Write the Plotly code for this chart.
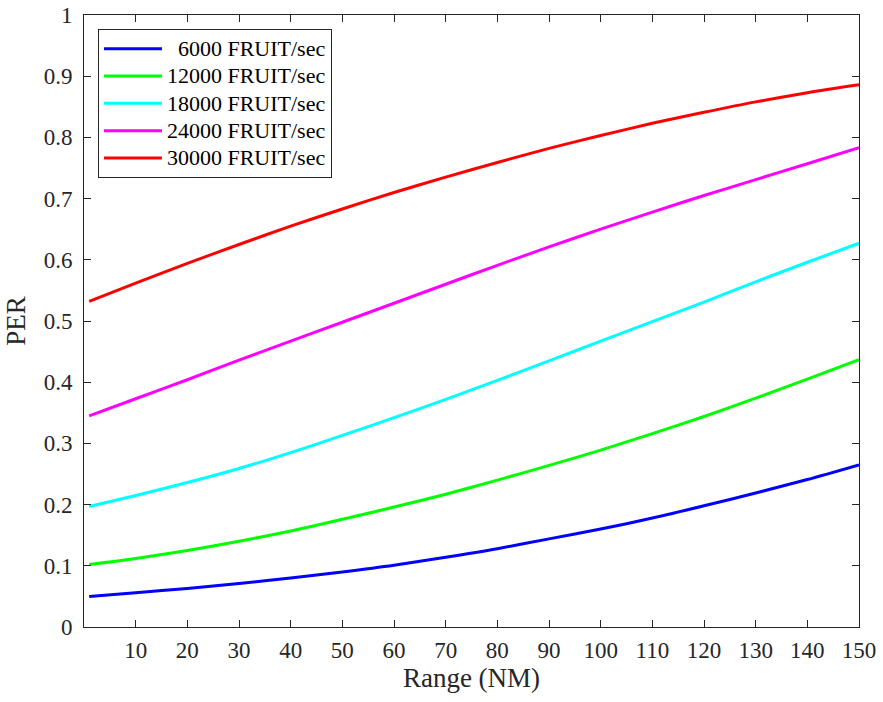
import plotly.graph_objects as go

range_nm = [1, 10, 20, 30, 40, 50, 60, 70, 80, 90, 100, 110, 120, 130, 140, 150]

per_6000 = [0.050, 0.056, 0.063, 0.071, 0.080, 0.090, 0.101, 0.114, 0.128, 0.144, 0.160, 0.178, 0.198, 0.219, 0.241, 0.265]
per_12000 = [0.102, 0.112, 0.125, 0.140, 0.157, 0.176, 0.196, 0.217, 0.240, 0.264, 0.289, 0.316, 0.344, 0.374, 0.405, 0.437]
per_18000 = [0.197, 0.215, 0.236, 0.259, 0.285, 0.313, 0.342, 0.372, 0.403, 0.435, 0.467, 0.499, 0.531, 0.564, 0.596, 0.627]
per_24000 = [0.345, 0.373, 0.404, 0.436, 0.467, 0.498, 0.529, 0.560, 0.591, 0.621, 0.650, 0.678, 0.705, 0.731, 0.757, 0.783]
per_30000 = [0.532, 0.562, 0.594, 0.625, 0.655, 0.683, 0.710, 0.735, 0.759, 0.782, 0.803, 0.823, 0.841, 0.858, 0.873, 0.886]

series_names = ["\u00a0\u00a06000 FRUIT/sec", "12000 FRUIT/sec", "18000 FRUIT/sec",
                "24000 FRUIT/sec", "30000 FRUIT/sec"]
series_values = [per_6000, per_12000, per_18000, per_24000, per_30000]
series_colors = ["#0000FF", "#00FF00", "#00FFFF", "#FF00FF", "#FF0000"]

x_ticks = [10, 20, 30, 40, 50, 60, 70, 80, 90, 100, 110, 120, 130, 140, 150]
y_ticks = [0, 0.1, 0.2, 0.3, 0.4, 0.5, 0.6, 0.7, 0.8, 0.9, 1.0]
y_tick_labels = ["0", "0.1", "0.2", "0.3", "0.4", "0.5", "0.6", "0.7", "0.8", "0.9", "1"]

FONT = "Liberation Serif, Times New Roman, serif"
AX = "#262626"

fig = go.Figure()
for name, vals, col in zip(series_names, series_values, series_colors):
    fig.add_trace(go.Scatter(x=range_nm, y=vals, mode="lines",
                             name='<span style="font-size:22px">' + name + '</span>',
                             line=dict(color=col, width=3, shape="spline", smoothing=0.8)))

fig.update_layout(
    width=883, height=702,
    margin=dict(l=84, r=24, t=15, b=75, autoexpand=False),
    paper_bgcolor="white", plot_bgcolor="white",
    font=dict(family=FONT, size=23, color=AX),
    showlegend=True,
    legend=dict(x=0.018, y=0.977, xanchor="left", yanchor="top",
                bgcolor="white", bordercolor=AX, borderwidth=1,
                font=dict(family=FONT, size=18.7, color="black"),
                tracegroupgap=0, itemwidth=58),
)
fig.update_xaxes(range=[0, 150], tickvals=x_ticks, ticks="inside", ticklen=7,
                 tickcolor=AX, showline=True, linecolor=AX, linewidth=1,
                 mirror="ticks", showgrid=False, zeroline=False,
                 ticklabelstandoff=2, ticklabeloverflow="allow",
                 title=dict(text="Range (NM)", font=dict(size=27), standoff=4),
                 tickfont=dict(size=23))
fig.update_yaxes(range=[0, 1], tickvals=y_ticks, ticktext=y_tick_labels,
                 ticks="inside", ticklen=7, tickcolor=AX, showline=True,
                 linecolor=AX, linewidth=1, mirror="ticks", showgrid=False,
                 zeroline=False, ticklabelstandoff=6, ticklabeloverflow="allow",
                 title=dict(text="PER", font=dict(size=27), standoff=10),
                 tickfont=dict(size=23))

fig.write_html("out.html", config={"displayModeBar": False},
               post_script="document.body.style.margin='0';document.body.style.overflow='hidden';")
